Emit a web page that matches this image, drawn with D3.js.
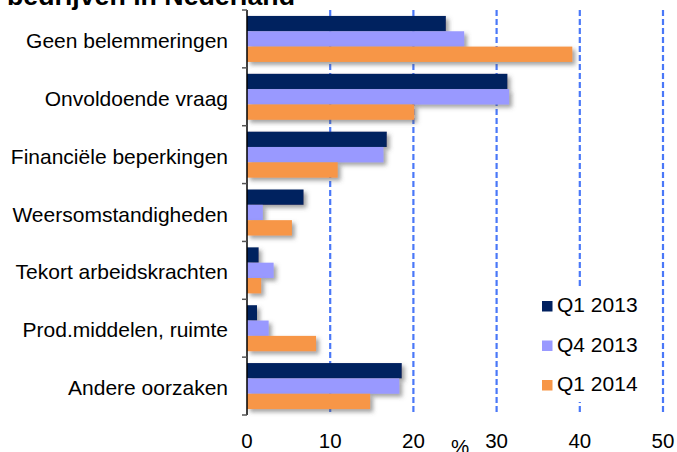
<!DOCTYPE html>
<html><head><meta charset="utf-8">
<script src="https://cdn.jsdelivr.net/npm/d3@7"></script>
<style>body{margin:0;background:#fff}svg{display:block}text{font-family:"Liberation Sans",Arial,sans-serif}</style>
</head><body>
<svg id="c" width="677" height="452"></svg>
<script>
const categories = ["Geen belemmeringen","Onvoldoende vraag","Financiële beperkingen","Weersomstandigheden","Tekort arbeidskrachten","Prod.middelen, ruimte","Andere oorzaken"];
const seriesNames = ["Q1 2013","Q4 2013","Q1 2014"];
const q1_2013 = [23.9, 31.3, 16.8, 6.8, 1.4, 1.2, 18.6];
const q4_2013 = [26.1, 31.5, 16.4, 1.9, 3.2, 2.6, 18.3];
const q1_2014 = [39.1, 20.1, 10.9, 5.4, 1.7, 8.3, 14.8];
const colors = ["#00205f","#9999ff","#f79646"];
const xTicks = [0,10,20,30,40,50];
const titleText = "bedrijven in Nederland";
const axisUnit = "%";

const values = [q1_2013, q4_2013, q1_2014];
const svg = d3.select("#c");
const defs = svg.append("defs");
const f = defs.append("filter").attr("id","sh").attr("x","-10%").attr("y","-30%").attr("width","130%").attr("height","180%");
f.append("feDropShadow").attr("dx",3).attr("dy",3).attr("stdDeviation",2).attr("flood-color","#555").attr("flood-opacity",0.55);

const x = d3.scaleLinear().domain([0,50]).range([247,663]);
const y = d3.scaleBand().domain(categories).range([10,415]).paddingInner(0.205).paddingOuter(0.1025);
const ySub = d3.scaleBand().domain(seriesNames).range([0,y.bandwidth()]);

// title (cut off at top, as in the reference)
svg.append("text").attr("x",7).attr("y",5).attr("font-size",26).attr("font-weight","bold")
  .attr("textLength",288).attr("lengthAdjust","spacingAndGlyphs").text(titleText);

// gridlines
svg.append("g").selectAll("line").data(xTicks.filter(d=>d>0)).join("line")
  .attr("x1",d=>x(d)).attr("x2",d=>x(d)).attr("y1",10).attr("y2",415)
  .attr("stroke","#4a78f8").attr("stroke-width",2.2).attr("stroke-dasharray","6,3");

// bars
const g = svg.append("g");
seriesNames.forEach((s,si)=>{
  g.append("g").attr("filter","url(#sh)").selectAll("rect").data(categories).join("rect")
    .attr("x",x(0)).attr("y",c=>y(c)+ySub(s))
    .attr("width",(c,i)=>x(values[si][i])-x(0)).attr("height",ySub.bandwidth())
    .attr("fill",colors[si]);
});

// y axis
const ya = svg.append("g").attr("transform",`translate(${x(0)},0)`);
ya.append("line").attr("x1",0).attr("x2",0).attr("y1",10).attr("y2",415).attr("stroke","#000").attr("stroke-width",1.5);
const bounds = categories.map(c=>y(c)-y.step()*y.paddingInner()/2).concat([415]);
ya.selectAll(".tk").data(bounds).join("line").attr("class","tk")
  .attr("x1",-5).attr("x2",0).attr("y1",d=>d).attr("y2",d=>d).attr("stroke","#555").attr("stroke-width",1.5);

svg.append("g").selectAll("text").data(categories).join("text")
  .attr("x",228).attr("y",c=>y(c)+y.bandwidth()/2+9).attr("text-anchor","end")
  .attr("font-size",21).attr("fill","#000").text(c=>c);

// x tick labels
svg.append("g").selectAll("text").data(xTicks).join("text")
  .attr("x",d=>x(d)).attr("y",448).attr("text-anchor","middle").attr("font-size",20.5).text(d=>d);
svg.append("text").attr("x",460).attr("y",454).attr("text-anchor","middle").attr("font-size",20.5).text(axisUnit);

// legend
const lg = svg.append("g");
lg.append("rect").attr("x",536).attr("y",287).attr("width",112).attr("height",115).attr("fill","#fff");
seriesNames.forEach((s,i)=>{
  const yy = 301 + i*39.5;
  lg.append("rect").attr("x",542).attr("y",yy).attr("width",10.5).attr("height",10.5).attr("fill",colors[i]);
  lg.append("text").attr("x",557).attr("y",yy+11).attr("font-size",21).text(s);
});
</script>
</body></html>
